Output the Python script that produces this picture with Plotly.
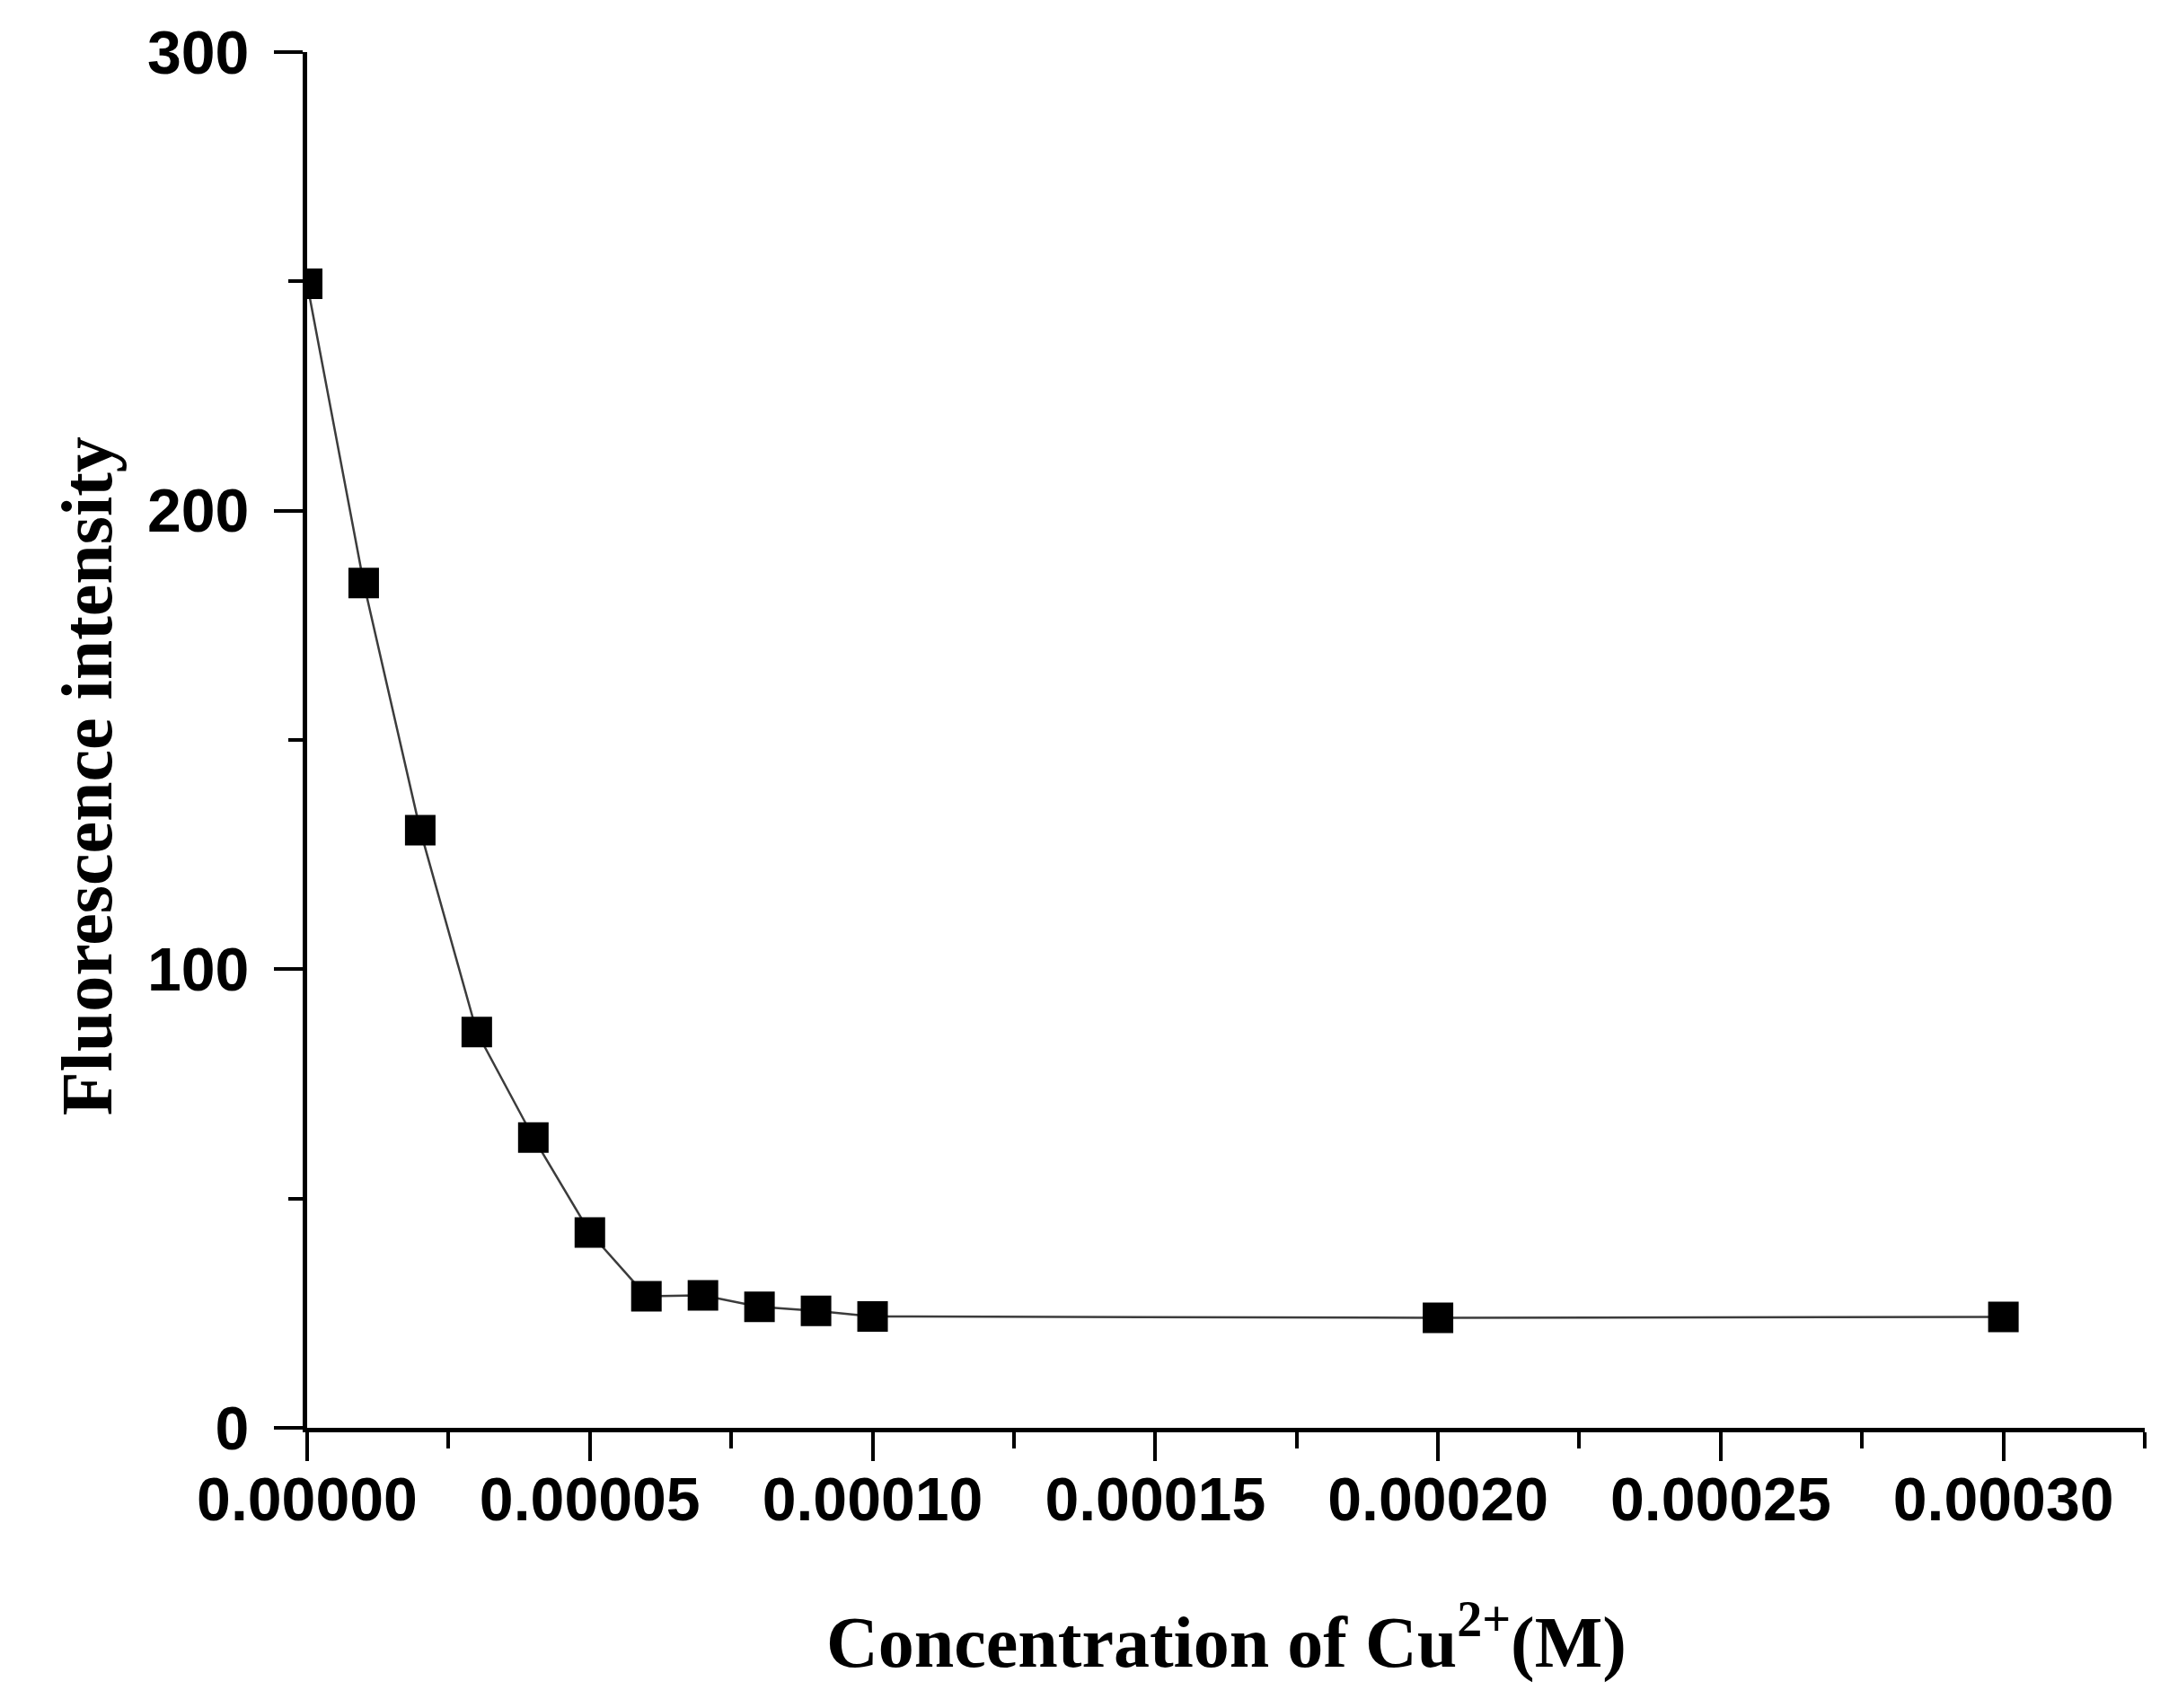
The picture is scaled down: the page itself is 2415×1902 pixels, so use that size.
"""
plot.py: fluorescence quenching of the probe as Cu2+ is added.

Black square markers joined by a thin grey line. Axis styling is kept close to
the Origin-style original: bold sans tick labels and bold serif axis titles.
"""

import plotly.graph_objects as go


# ── Data ──────────────────────────────────────────────────────────────────────

cu_conc = [0.0, 0.00001, 0.00002, 0.00003, 0.00004, 0.00005, 0.00006,
           0.00007, 0.00008, 0.00009, 0.00010, 0.00020, 0.00030]
intensity = [249.5, 184.2, 130.3, 86.3, 63.3, 42.6, 28.7,
             28.9, 26.4, 25.5, 24.3, 24.0, 24.2]

x_ticks = [0.0, 0.00005, 0.00010, 0.00015, 0.00020, 0.00025, 0.00030]
y_ticks = [0, 100, 200, 300]

x_title = "Concentration of Cu<sup>2+</sup>(M)"
y_title = "Fluorescence intensity"


# ── Figure ────────────────────────────────────────────────────────────────────

TICK_FONT = dict(family="Liberation Sans, Arial", size=68, color="black", weight="bold")
TITLE_FONT = dict(family="Liberation Serif, Times New Roman", size=80, color="black", weight="bold")

fig = go.Figure()
fig.add_trace(go.Scatter(
    x=cu_conc, y=intensity,
    mode="lines+markers",
    line=dict(color="#3c3c3c", width=2.5),
    marker=dict(symbol="square", size=34, color="black", line=dict(width=0)),
    showlegend=False,
))

axis_common = dict(
    showline=True, linecolor="black", linewidth=5,
    showgrid=False, zeroline=False, mirror=False,
    ticks="outside", ticklen=32, tickwidth=4, tickcolor="black",
    tickfont=TICK_FONT,
)

fig.update_xaxes(
    range=[0, 0.000325],
    tickvals=x_ticks, tickformat=".5f",
    ticklabelstandoff=-16,   # labels sit a bit closer to the ticks in the original
    minor=dict(ticks="outside", dtick=0.000025, ticklen=18, tickwidth=4, tickcolor="black"),
    **axis_common,
)
fig.update_yaxes(
    range=[0, 300],
    tickvals=y_ticks,
    ticklabelstandoff=14,
    minor=dict(ticks="outside", dtick=50, ticklen=16, tickwidth=4, tickcolor="black"),
    **axis_common,
)

# axis titles placed as annotations so their position can follow the original
fig.add_annotation(
    text=x_title, xref="paper", yref="paper", x=0.5, y=-0.152,
    showarrow=False, font=TITLE_FONT, xanchor="center", yanchor="middle",
)
fig.add_annotation(
    text=y_title, xref="paper", yref="paper", x=-0.12, y=0.474,
    showarrow=False, font=TITLE_FONT, textangle=-90,
    xanchor="center", yanchor="middle",
)

fig.update_layout(
    width=2415, height=1902,
    margin=dict(l=334, r=35, t=45, b=320),
    plot_bgcolor="white", paper_bgcolor="white",
)

fig.write_html("out.html")
